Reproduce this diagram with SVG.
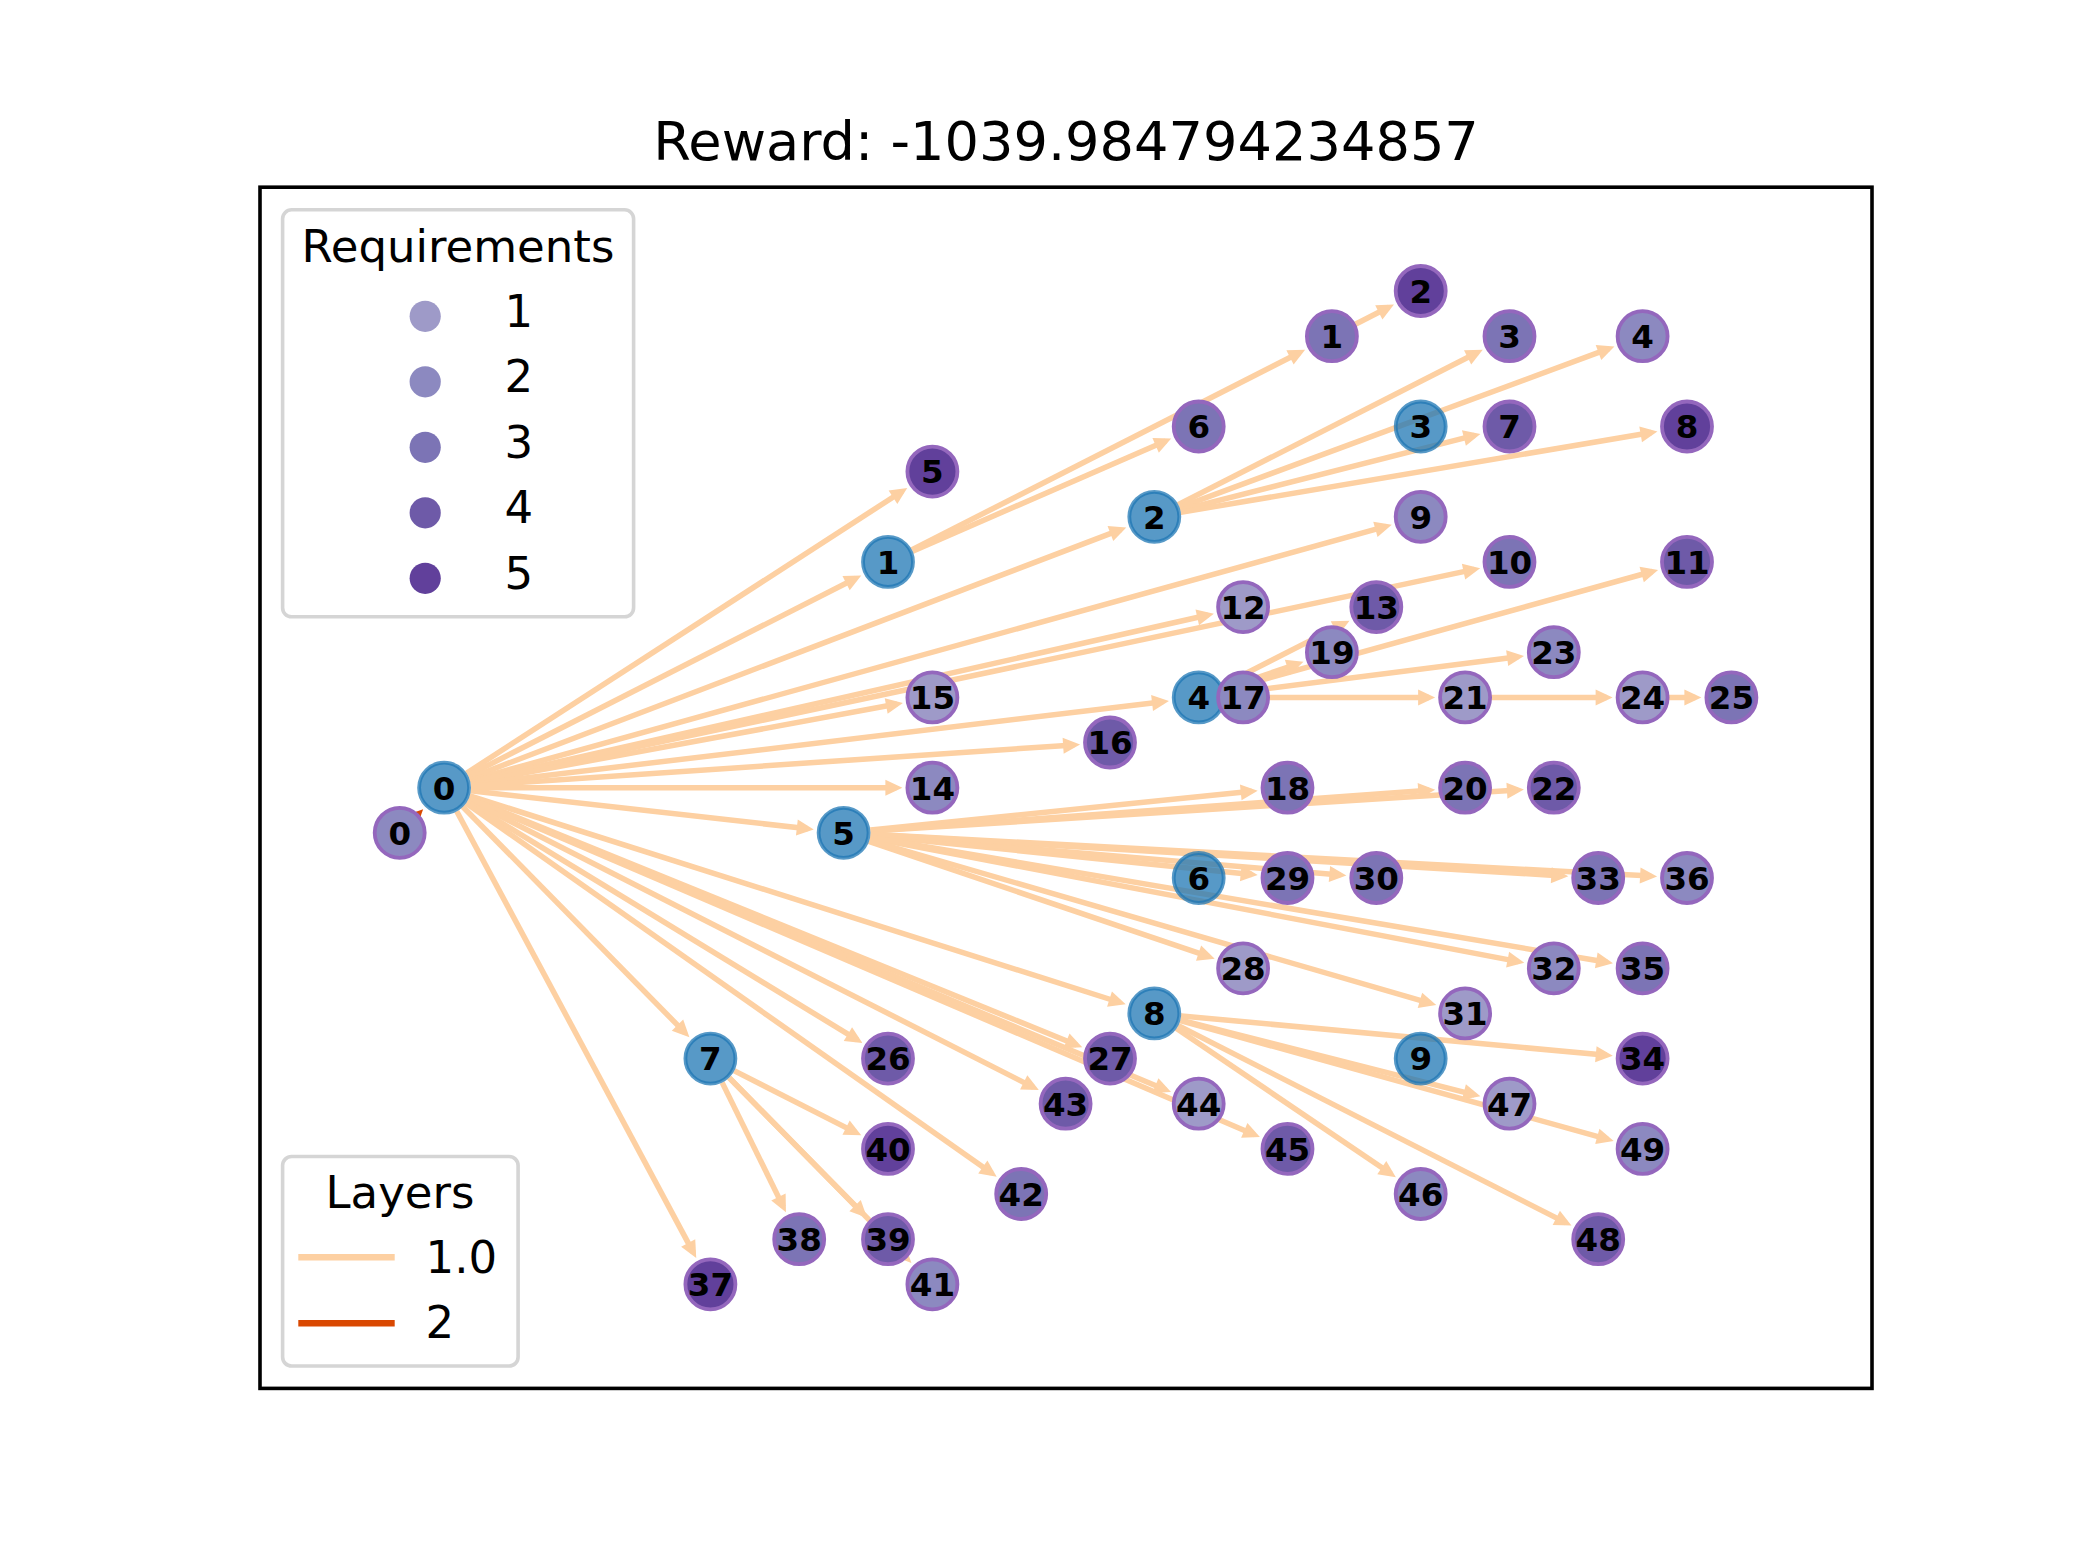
<svg xmlns="http://www.w3.org/2000/svg" width="2080" height="1560" viewBox="0 0 2080 1560">
<style>
.e{stroke:#fdd0a2;stroke-width:5.5;fill:none;marker-end:url(#ah)}
.e2{stroke:#d94801;stroke-width:5.5;fill:none;marker-end:url(#ah2)}
.wb{fill:#fff}
.bn{fill:#1f77b4;fill-opacity:0.75;stroke:#1f77b4;stroke-opacity:0.75;stroke-width:3.8}
.pn{stroke:#9467bd;stroke-width:3.8}
.r1{fill:#9e9ac8}.r2{fill:#8c89c0}.r3{fill:#7c74b5}.r4{fill:#6e5aa8}.r5{fill:#61409b}
.lb{font-family:"DejaVu Sans",sans-serif;font-weight:bold;font-size:32.5px;text-anchor:middle;fill:#000}
.lg{font-family:"DejaVu Sans",sans-serif;font-size:45px;fill:#000}
.frame{fill:#fff;fill-opacity:0.8;stroke:#d5d5d5;stroke-width:3.6}
</style>
<defs>
<marker id="ah" markerUnits="userSpaceOnUse" orient="auto" overflow="visible" markerWidth="40" markerHeight="40" refX="0" refY="0"><path d="M6,0 L-11,-8 L-11,8 Z" fill="#fdd0a2"/></marker>
<marker id="ah2" markerUnits="userSpaceOnUse" orient="auto" overflow="visible" markerWidth="40" markerHeight="40" refX="0" refY="0"><path d="M6,0 L-11,-8 L-11,8 Z" fill="#d94801"/></marker>
</defs>
<rect width="2080" height="1560" fill="#fff"/>
<text x="1066" y="160" font-family="DejaVu Sans, sans-serif" font-size="54.2" text-anchor="middle">Reward: -1039.984794234857</text>
<rect x="260" y="187.2" width="1612" height="1201.2" fill="none" stroke="#000" stroke-width="3.6"/>
<g id="edges">
<line class="e" x1="444.1" y1="787.7" x2="902.2" y2="491.2"/>
<line class="e" x1="444.1" y1="787.7" x2="855.9" y2="578.2"/>
<line class="e" x1="444.1" y1="787.7" x2="1120.7" y2="529.6"/>
<line class="e" x1="444.1" y1="787.7" x2="1386.0" y2="526.4"/>
<line class="e" x1="444.1" y1="787.7" x2="1208.0" y2="615.0"/>
<line class="e" x1="444.1" y1="787.7" x2="1474.3" y2="569.4"/>
<line class="e" x1="444.1" y1="787.7" x2="897.0" y2="704.0"/>
<line class="e" x1="444.1" y1="787.7" x2="1163.0" y2="701.7"/>
<line class="e" x1="444.1" y1="787.7" x2="1074.1" y2="744.9"/>
<line class="e" x1="444.1" y1="787.7" x2="896.4" y2="787.7"/>
<line class="e" x1="444.1" y1="787.7" x2="807.8" y2="828.8"/>
<line class="e" x1="444.1" y1="787.7" x2="1120.0" y2="1002.5"/>
<line class="e" x1="444.1" y1="787.7" x2="1076.7" y2="1045.0"/>
<line class="e" x1="444.1" y1="787.7" x2="1165.5" y2="1089.8"/>
<line class="e" x1="444.1" y1="787.7" x2="1254.4" y2="1134.7"/>
<line class="e" x1="444.1" y1="787.7" x2="1033.5" y2="1087.4"/>
<line class="e" x1="444.1" y1="787.7" x2="857.3" y2="1039.9"/>
<line class="e" x1="444.1" y1="787.7" x2="991.8" y2="1173.3"/>
<line class="e" x1="444.1" y1="787.7" x2="685.2" y2="1032.9"/>
<line class="e" x1="444.1" y1="787.7" x2="693.4" y2="1252.6"/>
<line class="e" x1="888.0" y1="561.9" x2="1165.7" y2="440.9"/>
<line class="e" x1="888.0" y1="561.9" x2="1299.8" y2="352.5"/>
<line class="e" x1="1331.9" y1="336.2" x2="1388.6" y2="307.3"/>
<line class="e" x1="1154.3" y1="516.8" x2="1477.4" y2="352.5"/>
<line class="e" x1="1154.3" y1="516.8" x2="1608.8" y2="348.7"/>
<line class="e" x1="1154.3" y1="516.8" x2="1474.6" y2="435.4"/>
<line class="e" x1="1154.3" y1="516.8" x2="1651.5" y2="432.5"/>
<line class="e" x1="1198.7" y1="697.4" x2="1344.2" y2="623.4"/>
<line class="e" x1="1198.7" y1="697.4" x2="1297.8" y2="663.8"/>
<line class="e" x1="1198.7" y1="697.4" x2="1652.3" y2="571.5"/>
<line class="e" x1="1198.7" y1="697.4" x2="1518.1" y2="656.7"/>
<line class="e" x1="1198.7" y1="697.4" x2="1429.1" y2="697.4"/>
<line class="e" x1="1465.1" y1="697.4" x2="1606.6" y2="697.4"/>
<line class="e" x1="1642.6" y1="697.4" x2="1695.4" y2="697.4"/>
<line class="e" x1="843.6" y1="832.8" x2="1251.7" y2="791.3"/>
<line class="e" x1="843.6" y1="832.8" x2="1429.2" y2="790.3"/>
<line class="e" x1="843.6" y1="832.8" x2="1517.9" y2="790.0"/>
<line class="e" x1="843.6" y1="832.8" x2="1251.7" y2="874.4"/>
<line class="e" x1="843.6" y1="832.8" x2="1340.4" y2="875.0"/>
<line class="e" x1="843.6" y1="832.8" x2="1562.3" y2="875.9"/>
<line class="e" x1="843.6" y1="832.8" x2="1651.1" y2="876.1"/>
<line class="e" x1="843.6" y1="832.8" x2="1209.0" y2="956.7"/>
<line class="e" x1="843.6" y1="832.8" x2="1518.4" y2="961.6"/>
<line class="e" x1="843.6" y1="832.8" x2="1607.1" y2="962.3"/>
<line class="e" x1="843.6" y1="832.8" x2="1430.5" y2="1003.4"/>
<line class="e" x1="710.4" y1="1058.6" x2="855.9" y2="1132.6"/>
<line class="e" x1="710.4" y1="1058.6" x2="783.3" y2="1206.9"/>
<line class="e" x1="710.4" y1="1058.6" x2="862.8" y2="1213.5"/>
<line class="e" x1="710.4" y1="1058.6" x2="907.2" y2="1258.6"/>
<line class="e" x1="1154.3" y1="1013.4" x2="1606.8" y2="1055.3"/>
<line class="e" x1="1154.3" y1="1013.4" x2="1474.6" y2="1094.8"/>
<line class="e" x1="1154.3" y1="1013.4" x2="1607.9" y2="1139.3"/>
<line class="e" x1="1154.3" y1="1013.4" x2="1390.9" y2="1173.8"/>
<line class="e" x1="1154.3" y1="1013.4" x2="1566.1" y2="1222.9"/>
<line class="e2" x1="399.7" y1="832.8" x2="418.9" y2="813.4"/>
</g>
<g id="s0"><circle class="wb" cx="444.1" cy="787.7" r="26.9"/><circle class="bn" cx="444.1" cy="787.7" r="25"/><text class="lb" x="444.1" y="799.5">0</text></g>
<g id="s1"><circle class="wb" cx="888.0" cy="561.9" r="26.9"/><circle class="bn" cx="888.0" cy="561.9" r="25"/><text class="lb" x="888.0" y="573.7">1</text></g>
<g id="s2"><circle class="wb" cx="1154.3" cy="516.8" r="26.9"/><circle class="bn" cx="1154.3" cy="516.8" r="25"/><text class="lb" x="1154.3" y="528.6">2</text></g>
<g id="s3"><circle class="bn" cx="1420.7" cy="426.5" r="25"/><text class="lb" x="1420.7" y="438.3">3</text></g>
<g id="s4"><circle class="wb" cx="1198.7" cy="697.4" r="26.9"/><circle class="bn" cx="1198.7" cy="697.4" r="25"/><text class="lb" x="1198.7" y="709.2">4</text></g>
<g id="s5"><circle class="wb" cx="843.6" cy="832.8" r="26.9"/><circle class="bn" cx="843.6" cy="832.8" r="25"/><text class="lb" x="843.6" y="844.6">5</text></g>
<g id="s6"><circle class="bn" cx="1198.7" cy="878.0" r="25"/><text class="lb" x="1198.7" y="889.8">6</text></g>
<g id="s7"><circle class="wb" cx="710.4" cy="1058.6" r="26.9"/><circle class="bn" cx="710.4" cy="1058.6" r="25"/><text class="lb" x="710.4" y="1070.4">7</text></g>
<g id="s8"><circle class="wb" cx="1154.3" cy="1013.4" r="26.9"/><circle class="bn" cx="1154.3" cy="1013.4" r="25"/><text class="lb" x="1154.3" y="1025.2">8</text></g>
<g id="s9"><circle class="bn" cx="1420.7" cy="1058.6" r="25"/><text class="lb" x="1420.7" y="1070.4">9</text></g>
<g id="v0"><circle class="pn r2" cx="399.7" cy="832.8" r="25"/><text class="lb" x="399.7" y="844.6">0</text></g>
<g id="v1"><circle class="pn r3" cx="1331.9" cy="336.2" r="25"/><text class="lb" x="1331.9" y="348.0">1</text></g>
<g id="v2"><circle class="pn r5" cx="1420.7" cy="291.0" r="25"/><text class="lb" x="1420.7" y="302.8">2</text></g>
<g id="v3"><circle class="pn r3" cx="1509.5" cy="336.2" r="25"/><text class="lb" x="1509.5" y="348.0">3</text></g>
<g id="v4"><circle class="pn r2" cx="1642.6" cy="336.2" r="25"/><text class="lb" x="1642.6" y="348.0">4</text></g>
<g id="v5"><circle class="pn r5" cx="932.4" cy="471.6" r="25"/><text class="lb" x="932.4" y="483.4">5</text></g>
<g id="v6"><circle class="pn r3" cx="1198.7" cy="426.5" r="25"/><text class="lb" x="1198.7" y="438.3">6</text></g>
<g id="v7"><circle class="pn r4" cx="1509.5" cy="426.5" r="25"/><text class="lb" x="1509.5" y="438.3">7</text></g>
<g id="v8"><circle class="pn r5" cx="1687.0" cy="426.5" r="25"/><text class="lb" x="1687.0" y="438.3">8</text></g>
<g id="v9"><circle class="pn r2" cx="1420.7" cy="516.8" r="25"/><text class="lb" x="1420.7" y="528.6">9</text></g>
<g id="v10"><circle class="pn r3" cx="1509.5" cy="561.9" r="25"/><text class="lb" x="1509.5" y="573.7">10</text></g>
<g id="v11"><circle class="pn r4" cx="1687.0" cy="561.9" r="25"/><text class="lb" x="1687.0" y="573.7">11</text></g>
<g id="v12"><circle class="pn r1" cx="1243.1" cy="607.1" r="25"/><text class="lb" x="1243.1" y="618.9">12</text></g>
<g id="v13"><circle class="pn r4" cx="1376.3" cy="607.1" r="25"/><text class="lb" x="1376.3" y="618.9">13</text></g>
<g id="v14"><circle class="pn r2" cx="932.4" cy="787.7" r="25"/><text class="lb" x="932.4" y="799.5">14</text></g>
<g id="v15"><circle class="pn r1" cx="932.4" cy="697.4" r="25"/><text class="lb" x="932.4" y="709.2">15</text></g>
<g id="v16"><circle class="pn r4" cx="1110.0" cy="742.5" r="25"/><text class="lb" x="1110.0" y="754.3">16</text></g>
<g id="v17"><circle class="pn r2" cx="1243.1" cy="697.4" r="25"/><text class="lb" x="1243.1" y="709.2">17</text></g>
<g id="v18"><circle class="pn r3" cx="1287.5" cy="787.7" r="25"/><text class="lb" x="1287.5" y="799.5">18</text></g>
<g id="v19"><circle class="pn r2" cx="1331.9" cy="652.2" r="25"/><text class="lb" x="1331.9" y="664.0">19</text></g>
<g id="v20"><circle class="pn r3" cx="1465.1" cy="787.7" r="25"/><text class="lb" x="1465.1" y="799.5">20</text></g>
<g id="v21"><circle class="pn r1" cx="1465.1" cy="697.4" r="25"/><text class="lb" x="1465.1" y="709.2">21</text></g>
<g id="v22"><circle class="pn r4" cx="1553.8" cy="787.7" r="25"/><text class="lb" x="1553.8" y="799.5">22</text></g>
<g id="v23"><circle class="pn r2" cx="1553.8" cy="652.2" r="25"/><text class="lb" x="1553.8" y="664.0">23</text></g>
<g id="v24"><circle class="pn r1" cx="1642.6" cy="697.4" r="25"/><text class="lb" x="1642.6" y="709.2">24</text></g>
<g id="v25"><circle class="pn r3" cx="1731.4" cy="697.4" r="25"/><text class="lb" x="1731.4" y="709.2">25</text></g>
<g id="v26"><circle class="pn r4" cx="888.0" cy="1058.6" r="25"/><text class="lb" x="888.0" y="1070.4">26</text></g>
<g id="v27"><circle class="pn r4" cx="1110.0" cy="1058.6" r="25"/><text class="lb" x="1110.0" y="1070.4">27</text></g>
<g id="v28"><circle class="pn r1" cx="1243.1" cy="968.3" r="25"/><text class="lb" x="1243.1" y="980.1">28</text></g>
<g id="v29"><circle class="pn r3" cx="1287.5" cy="878.0" r="25"/><text class="lb" x="1287.5" y="889.8">29</text></g>
<g id="v30"><circle class="pn r3" cx="1376.3" cy="878.0" r="25"/><text class="lb" x="1376.3" y="889.8">30</text></g>
<g id="v31"><circle class="pn r1" cx="1465.1" cy="1013.4" r="25"/><text class="lb" x="1465.1" y="1025.2">31</text></g>
<g id="v32"><circle class="pn r2" cx="1553.8" cy="968.3" r="25"/><text class="lb" x="1553.8" y="980.1">32</text></g>
<g id="v33"><circle class="pn r3" cx="1598.2" cy="878.0" r="25"/><text class="lb" x="1598.2" y="889.8">33</text></g>
<g id="v34"><circle class="pn r5" cx="1642.6" cy="1058.6" r="25"/><text class="lb" x="1642.6" y="1070.4">34</text></g>
<g id="v35"><circle class="pn r3" cx="1642.6" cy="968.3" r="25"/><text class="lb" x="1642.6" y="980.1">35</text></g>
<g id="v36"><circle class="pn r2" cx="1687.0" cy="878.0" r="25"/><text class="lb" x="1687.0" y="889.8">36</text></g>
<g id="v37"><circle class="pn r5" cx="710.4" cy="1284.3" r="25"/><text class="lb" x="710.4" y="1296.1">37</text></g>
<g id="v38"><circle class="pn r3" cx="799.2" cy="1239.2" r="25"/><text class="lb" x="799.2" y="1251.0">38</text></g>
<g id="v39"><circle class="pn r4" cx="888.0" cy="1239.2" r="25"/><text class="lb" x="888.0" y="1251.0">39</text></g>
<g id="v40"><circle class="pn r5" cx="888.0" cy="1148.9" r="25"/><text class="lb" x="888.0" y="1160.7">40</text></g>
<g id="v41"><circle class="pn r2" cx="932.4" cy="1284.3" r="25"/><text class="lb" x="932.4" y="1296.1">41</text></g>
<g id="v42"><circle class="pn r3" cx="1021.2" cy="1194.0" r="25"/><text class="lb" x="1021.2" y="1205.8">42</text></g>
<g id="v43"><circle class="pn r4" cx="1065.6" cy="1103.7" r="25"/><text class="lb" x="1065.6" y="1115.5">43</text></g>
<g id="v44"><circle class="pn r1" cx="1198.7" cy="1103.7" r="25"/><text class="lb" x="1198.7" y="1115.5">44</text></g>
<g id="v45"><circle class="pn r4" cx="1287.5" cy="1148.9" r="25"/><text class="lb" x="1287.5" y="1160.7">45</text></g>
<g id="v46"><circle class="pn r2" cx="1420.7" cy="1194.0" r="25"/><text class="lb" x="1420.7" y="1205.8">46</text></g>
<g id="v47"><circle class="pn r1" cx="1509.5" cy="1103.7" r="25"/><text class="lb" x="1509.5" y="1115.5">47</text></g>
<g id="v48"><circle class="pn r4" cx="1598.2" cy="1239.2" r="25"/><text class="lb" x="1598.2" y="1251.0">48</text></g>
<g id="v49"><circle class="pn r2" cx="1642.6" cy="1148.9" r="25"/><text class="lb" x="1642.6" y="1160.7">49</text></g>
<g id="legend-requirements">
<rect class="frame" x="282.6" y="209.8" width="351" height="407" rx="9"/>
<text class="lg" x="458" y="261.7" text-anchor="middle">Requirements</text>
<circle class="r1" cx="425.2" cy="316.3" r="15.6"/><text class="lg" x="504.5" y="326.7">1</text>
<circle class="r2" cx="425.2" cy="381.8" r="15.6"/><text class="lg" x="504.5" y="392.2">2</text>
<circle class="r3" cx="425.2" cy="447.3" r="15.6"/><text class="lg" x="504.5" y="457.7">3</text>
<circle class="r4" cx="425.2" cy="512.8" r="15.6"/><text class="lg" x="504.5" y="523.2">4</text>
<circle class="r5" cx="425.2" cy="578.3" r="15.6"/><text class="lg" x="504.5" y="588.7">5</text>
</g>
<g id="legend-layers">
<rect class="frame" x="282.6" y="1156.5" width="235.5" height="209.5" rx="9"/>
<text class="lg" x="400" y="1208.3" text-anchor="middle">Layers</text>
<line x1="298.3" y1="1257.3" x2="394.7" y2="1257.3" stroke="#fdd0a2" stroke-width="6.5"/>
<text class="lg" x="425.5" y="1272.7">1.0</text>
<line x1="298.3" y1="1323.3" x2="394.7" y2="1323.3" stroke="#d94801" stroke-width="6.5"/>
<text class="lg" x="425.5" y="1338.3">2</text>
</g>
</svg>
